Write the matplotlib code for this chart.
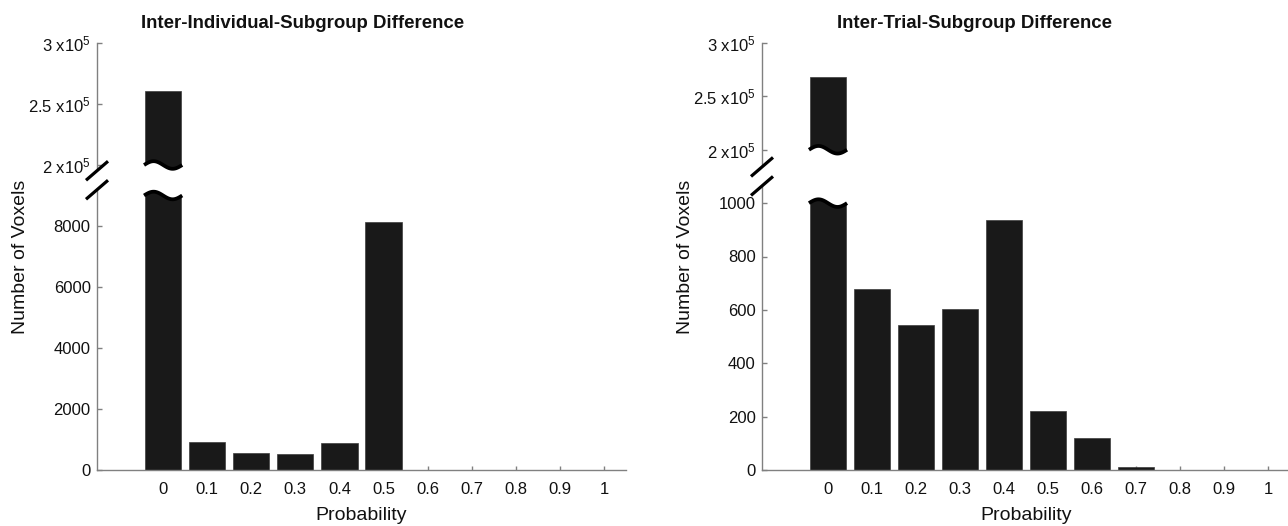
import numpy as np
import matplotlib
matplotlib.use('Agg')
import matplotlib.pyplot as plt
from matplotlib.lines import Line2D
from matplotlib.patches import Polygon

plt.rcParams['font.family'] = ['Liberation Sans', 'DejaVu Sans']
plt.rcParams['mathtext.fontset'] = 'custom'
plt.rcParams['mathtext.rm'] = 'Liberation Sans'
plt.rcParams['mathtext.it'] = 'Liberation Sans:italic'
plt.rcParams['mathtext.bf'] = 'Liberation Sans:bold'

# ---------------- data ----------------
probability = [0.0, 0.1, 0.2, 0.3, 0.4, 0.5, 0.6, 0.7, 0.8, 0.9, 1.0]
prob_labels = ['0', '0.1', '0.2', '0.3', '0.4', '0.5', '0.6', '0.7', '0.8', '0.9', '1']

individual_counts = [260400, 926, 567, 513, 895, 8128, 0, 0, 0, 0, 0]
trial_counts = [268500, 680, 544, 604, 937, 222, 119, 13, 0, 0, 0]

titles = ['Inter-Individual-Subgroup Difference', 'Inter-Trial-Subgroup Difference']
x_label = 'Probability'
y_label = 'Number of Voxels'

individual_low_ticks = [0, 2000, 4000, 6000, 8000]
trial_low_ticks = [0, 200, 400, 600, 800, 1000]
high_ticks = [200000, 250000, 300000]
high_tick_labels = [r'$\mathrm{2\ x10^5}$', r'$\mathrm{2.5\ x10^5}$', r'$\mathrm{3\ x10^5}$']

# break settings: (top of lower segment, scaled slot of 2e5, compression factor)
individual_break = (9000, 10000, 25)
trial_break = (1000, 1200, 250)
break_base = 200000
y_max = 300000

W, H = 1288, 526
fig = plt.figure(figsize=(W / 100, H / 100), dpi=100)
fig.patch.set_facecolor('white')

BAR_COLOR = '#191919'
AXIS_COLOR = '#808080'
TEXT_COLOR = '#111111'


def make_scale(low_top, slot, factor):
    def fwd(v):
        v = np.asarray(v, dtype=float)
        gap = low_top + (v - low_top) * (slot - low_top) / (break_base - low_top)
        return np.where(v <= low_top, v,
                        np.where(v >= break_base, slot + (v - break_base) / factor, gap))

    def inv(s):
        s = np.asarray(s, dtype=float)
        gap = low_top + (s - low_top) * (break_base - low_top) / (slot - low_top)
        return np.where(s <= low_top, s,
                        np.where(s >= slot, break_base + (s - slot) * factor, gap))
    return fwd, inv


panels = [
    dict(rect=[97 / W, 56 / H, 529 / W, 427 / H], counts=individual_counts,
         low_ticks=individual_low_ticks, brk=individual_break, title=titles[0],
         title_x=0.3885),
    dict(rect=[762 / W, 56 / H, 528 / W, 427 / H], counts=trial_counts,
         low_ticks=trial_low_ticks, brk=trial_break, title=titles[1],
         title_x=0.4025),
]


def to_fig(xs, ys):
    return np.asarray(xs) / W, np.asarray(ys) / H


for p in panels:
    ax = fig.add_axes(p['rect'])
    low_top, slot, factor = p['brk']
    fwd, inv = make_scale(low_top, slot, factor)
    ax.set_yscale('function', functions=(fwd, inv))
    ax.set_xlim(-0.15, 1.05)
    ax.set_ylim(0, y_max)
    ax.set_axisbelow(True)

    bars = ax.bar(probability, p['counts'], width=0.082, color=BAR_COLOR,
                  edgecolor='#3c3c3c', linewidth=0.5, zorder=2)

    ax.set_xticks(probability)
    ax.set_xticklabels(prob_labels)
    yt = list(p['low_ticks']) + high_ticks
    ax.set_yticks(yt)
    ax.set_yticklabels([str(t) for t in p['low_ticks']] + high_tick_labels)
    ax.yaxis.set_minor_locator(matplotlib.ticker.NullLocator())
    ax.xaxis.set_minor_locator(matplotlib.ticker.NullLocator())

    for s in ['top', 'right']:
        ax.spines[s].set_visible(False)
    for s in ['left', 'bottom']:
        ax.spines[s].set_color(AXIS_COLOR)
        ax.spines[s].set_linewidth(1.0)
    ax.tick_params(axis='y', direction='in', length=3.6, width=1.0, color=AXIS_COLOR,
                   labelsize=12, labelcolor=TEXT_COLOR, pad=4.5)
    ax.tick_params(axis='x', direction='in', length=3.2, width=1.0, color=AXIS_COLOR,
                   labelsize=12, labelcolor=TEXT_COLOR, pad=8.3)

    ax.set_xlabel(x_label, fontsize=14, labelpad=7.5, color=TEXT_COLOR)
    ax.set_ylabel(y_label, fontsize=14, color=TEXT_COLOR)
    ax.yaxis.set_label_coords(-0.128, 0.5)
    ax.text(p['title_x'], 1.0351, p['title'], transform=ax.transAxes,
            ha='center', va='baseline', fontsize=13.4, fontweight='bold', color=TEXT_COLOR)

    # ---- broken-axis decorations (display pixel space) ----
    b0 = bars[0]
    xl = b0.get_x()
    xr = xl + b0.get_width()
    (pxl, y_up), = ax.transData.transform([(xl, break_base)])
    (pxr, _), = ax.transData.transform([(xr, break_base)])
    (_, y_lo), = ax.transData.transform([(xl, low_top)])
    amp = 3.8
    t = np.linspace(0, 1, 80)
    wx = (pxl - 1.0) + t * (pxr - pxl + 2.0)
    wy_up = y_up + amp * np.sin(2 * np.pi * t)
    wy_lo = y_lo + amp * np.sin(2 * np.pi * t)
    poly_x = np.concatenate([wx, wx[::-1]])
    poly_y = np.concatenate([wy_up, wy_lo[::-1]])
    fx, fy = to_fig(poly_x, poly_y)
    fig.add_artist(Polygon(np.column_stack([fx, fy]), closed=True, facecolor='white',
                           edgecolor='none', transform=fig.transFigure, zorder=5))
    for wy in (wy_up, wy_lo):
        fx, fy = to_fig(wx, wy)
        fig.add_artist(Line2D(fx, fy, color='black', linewidth=2.7,
                              transform=fig.transFigure, zorder=6,
                              solid_capstyle='butt'))

    # axis break slashes
    (ax_x, _), = ax.transAxes.transform([(0, 0)])
    mid = 0.5 * (y_up + y_lo)
    off = 9.5
    rx = [ax_x - 7, ax_x + 7, ax_x + 7, ax_x - 7]
    ry = [mid - off, mid - off, mid + off, mid + off]
    fx, fy = to_fig(rx, ry)
    fig.add_artist(Polygon(np.column_stack([fx, fy]), closed=True, facecolor='white',
                           edgecolor='none', transform=fig.transFigure, zorder=5))
    for cy in (mid - off, mid + off):
        sx = [ax_x - 11, ax_x + 11]
        sy = [cy - 9.5, cy + 9.5]
        fx, fy = to_fig(sx, sy)
        fig.add_artist(Line2D(fx, fy, color='black', linewidth=2.3,
                              transform=fig.transFigure, zorder=6,
                              solid_capstyle='butt'))

fig.savefig('out.png', dpi=100, facecolor='white')
